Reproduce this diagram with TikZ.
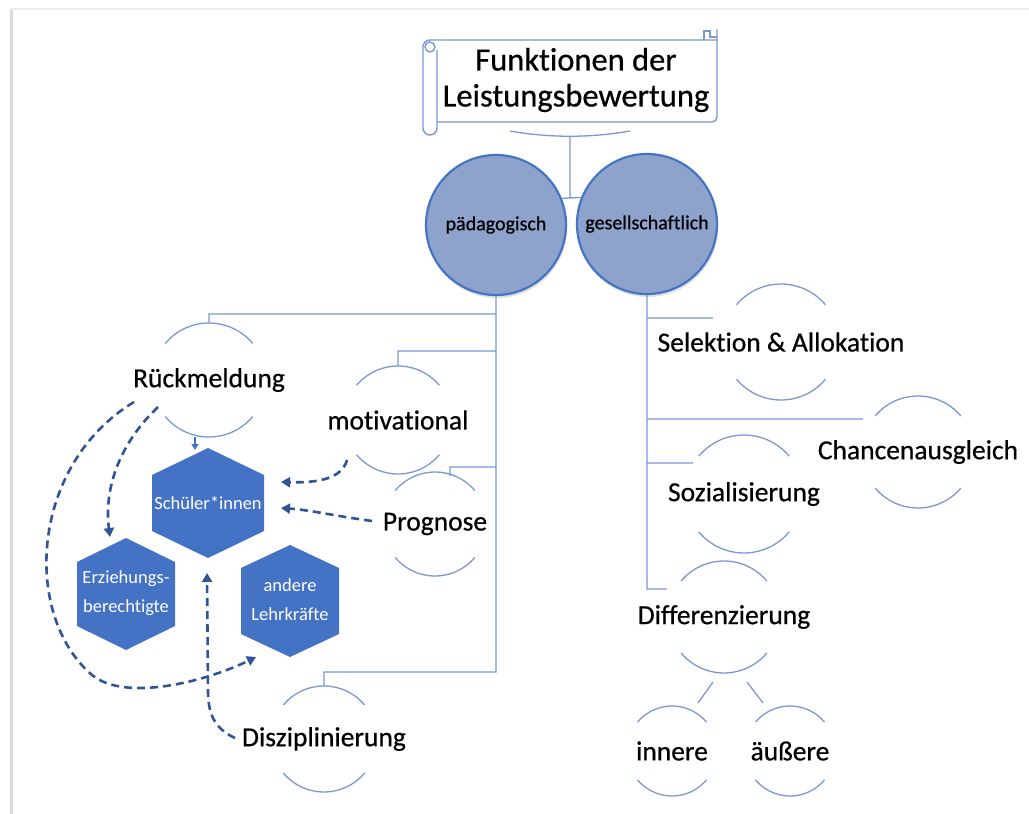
\documentclass[tikz,border=0pt]{standalone}
\usepackage{fontspec}
\setmainfont{Carlito}[Ligatures=NoCommon]
\newfontfamily\lblfont{Carlito}[FakeBold=0.6,Ligatures=NoCommon]
\usetikzlibrary{arrows.meta,shadows}

\definecolor{linkblue}{RGB}{122,152,212}
\definecolor{ballfill}{RGB}{142,163,204}
\definecolor{ballrim}{RGB}{70,116,196}
\definecolor{hexblue}{RGB}{68,114,196}
\definecolor{dashblue}{RGB}{47,85,151}

% upper and lower arc round a label
\newcommand{\ringarcs}[2]{%
  \draw[arcline] ([shift={(140:#2)}]#1.center) arc[start angle=140,end angle=40,radius=#2];
  \draw[arcline] ([shift={(220:#2)}]#1.center) arc[start angle=220,end angle=320,radius=#2];}
% hexagon: centre, half width, half height, side offset
\newcommand{\hexpatch}[4]{%
  \fill[hexblue] (#1) +(0,-#3) -- +(#2,-#4) -- +(#2,#4) -- +(0,#3) -- +(-#2,#4) -- +(-#2,-#4) -- cycle;}

\begin{document}
\begin{tikzpicture}[x=1pt,y=-1pt,
    linkline/.style={draw=linkblue, line width=1.3pt},
    arcline/.style={draw=linkblue, line width=1.3pt},
    scrollline/.style={draw=linkblue, line width=1.4pt},
    ball/.style={circle, draw=ballrim, line width=2.2pt, fill=ballfill, minimum size=140pt, inner sep=0pt,
      font=\lblfont\fontsize{20}{24}\selectfont, drop shadow={opacity=.25, shadow xshift=1pt, shadow yshift=-3pt}},
    titletext/.style={align=center, inner sep=0pt, font=\lblfont\fontsize{32.5}{36}\selectfont},
    lbl/.style={inner sep=0pt, font=\lblfont\fontsize{27.5}{32}\selectfont},
    hextext/.style={text=white, align=center, inner sep=0pt, font=\fontsize{18.5}{29}\selectfont},
    dasharrow/.style={draw=dashblue, line width=2.6pt, dash pattern=on 8pt off 5pt, -{Triangle[length=9pt,width=10pt]}},
    softarrow/.style={draw=hexblue, line width=1.3pt, -{Triangle[length=6pt,width=7pt]}}]
  \useasboundingbox (0,0) rectangle (1029,814);
  % page edge
  \draw[gray!28, line width=3pt] (11,814) -- (11,9);
  \draw[gray!15, line width=1.5pt] (11,9) -- (1029,9);

  % scroll
  \draw[scrollline, rounded corners=5pt] (437,122) -- (717,122) -- (717,29);
  \draw[scrollline] (423,128) -- (423,47) arc[start angle=180,end angle=90,radius=7pt] -- (717,40);
  \draw[scrollline] (437,50) -- (437,128) arc[start angle=0,end angle=-180,radius=7pt];
  \draw[scrollline] (430,47) circle[radius=5pt];
  \draw[scrollline] (704,40) -- (704,31) -- (710,31) -- (710,37) -- (717,37);

  \node (tit) at (576,80) [titletext] {Funktionen der\\Leistungsbewertung};
  \node (pae) at (496,225) [ball] {pädagogisch};
  \node (ges) at (647,224) [ball] {gesellschaftlich};

  \node (rm) at (209,380) [lbl] {Rückmeldung};
  \node (mot) at (398,420) [lbl] {motivational};
  \node (pro) at (435,524) [lbl] {Prognose};
  \node (dis) at (324,739) [lbl] {Disziplinierung};
  \node (sel) at (781,342) [lbl] {Selektion \& Allokation};
  \node (cha) at (918,452) [lbl] {Chancenausgleich};
  \node (soz) at (744,494) [lbl] {Sozialisierung};
  \node (dif) at (724,617) [lbl] {Differenzierung};
  \node (inn) at (672,751) [lbl] {innere};
  \node (aeu) at (790,751) [lbl] {äußere};

  \ringarcs{rm}{57pt}
  \ringarcs{mot}{54pt}
  \ringarcs{pro}{52pt}
  \ringarcs{dis}{53pt}
  \ringarcs{sel}{58pt}
  \ringarcs{cha}{56pt}
  \ringarcs{soz}{59pt}
  \ringarcs{dif}{56pt}
  \ringarcs{inn}{45pt}
  \ringarcs{aeu}{45pt}

  % tree
  \coordinate (titL) at (510,131);
  \coordinate (titR) at (630,131);
  \coordinate (titM) at (570,136);
  \coordinate (hub) at (570,198);
  \coordinate (rmK) at (209,314);
  \coordinate (rmT) at (209,323);
  \coordinate (motK) at (398,351);
  \coordinate (motT) at (398,366);
  \coordinate (proK) at (450,467);
  \coordinate (proT) at (450,476);
  \coordinate (disK) at (324,672);
  \coordinate (disT) at (324,686);
  \coordinate (selK) at (713,318);
  \coordinate (chaK) at (863,419);
  \coordinate (sozK) at (693,463);
  \coordinate (difK) at (667,589);
  \coordinate (difA) at (713,682);
  \coordinate (innA) at (698,703);
  \coordinate (difB) at (747,682);
  \coordinate (aeuA) at (763,703);

  \draw[linkline]
    (titL) .. controls (550,138) and (590,138) .. (titR)
    (titM) -- (hub)
    (pae.22) -- (ges.158)
    (pae.south) |- (rmK) -- (rmT)
    (pae.south) |- (motK) -- (motT)
    (pae.south) |- (proK) -- (proT)
    (pae.south) |- (disK) -- (disT)
    (ges.south) |- (selK)
    (ges.south) |- (chaK)
    (ges.south) |- (sozK)
    (ges.south) |- (difK)
    (difA) -- (innA)
    (difB) -- (aeuA);

  % hexagons
  \hexpatch{208,503}{56}{55}{28}
  \hexpatch{126,594}{49}{56}{32}
  \hexpatch{290,601}{49}{56}{33}
  \node (sch) at (208,503) [hextext] {Schüler*innen};
  \node (erz) at (126,593) [hextext] {Erziehungs-\\berechtigte};
  \node (lehr) at (290,600) [hextext] {andere\\Lehrkräfte};

  % arrows
  \coordinate (rmA) at (158,407);
  \coordinate (erzT) at (110,537);
  \coordinate (rmB) at (134,402);
  \coordinate (loop) at (92,675);
  \coordinate (lehrL) at (256,657);
  \coordinate (motA) at (347,460);
  \coordinate (schR) at (281,482);
  \coordinate (proA) at (372,521);
  \coordinate (schS) at (281,508);
  \coordinate (disA) at (235,738);
  \coordinate (schB) at (207,573);
  \coordinate (rmC) at (195,437);
  \coordinate (schT) at (195,450);

  \draw[dasharrow] (rmA) .. controls (118,445) and (104,490) .. (erzT);
  \draw[dasharrow] (rmB) .. controls (30,465) and (22,615) .. (loop) .. controls (125,702) and (205,682) .. (lehrL);
  \draw[dasharrow] (motA) .. controls (342,478) and (320,483) .. (schR);
  \draw[dasharrow] (proA) .. controls (335,516) and (310,510) .. (schS);
  \draw[dasharrow] (disA) .. controls (213,728) and (208,712) .. (208,690) -- (schB);
  \draw[softarrow] (rmC) -- (schT);
\end{tikzpicture}
\end{document}
